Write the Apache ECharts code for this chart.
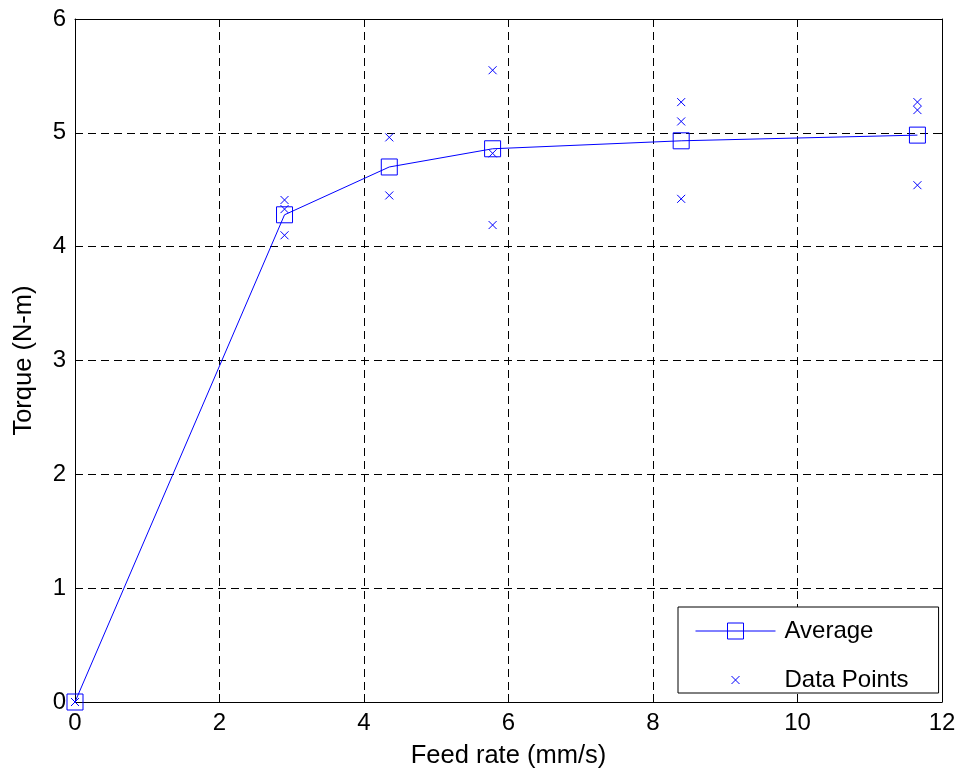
<!DOCTYPE html>
<html>
<head>
<meta charset="utf-8">
<script src="https://cdn.jsdelivr.net/npm/echarts@6/dist/echarts.min.js"></script>
<style>html,body{margin:0;padding:0;background:#fff}#c{width:961px;height:774px}</style>
</head>
<body>
<div id="c"></div>
<script>
// Averages
var feedRate = [0, 2.9, 4.35, 5.78, 8.39, 11.66];
var averageTorque = [0, 4.28, 4.70, 4.86, 4.93, 4.98];
// Individual measurements
var pointFeed = [0, 2.9, 2.9, 2.9, 4.35, 4.35, 5.78, 5.78, 5.78, 8.39, 8.39, 8.39, 11.66, 11.66, 11.66];
var pointTorque = [0, 4.41, 4.33, 4.10, 4.96, 4.45, 5.55, 4.82, 4.19, 5.27, 5.10, 4.42, 5.27, 5.20, 4.54];
var xTicks = [0, 2, 4, 6, 8, 10, 12];
var yTicks = [0, 1, 2, 3, 4, 5, 6];

var FONT = '"Liberation Sans", Arial, sans-serif';
var BLUE = '#0000ff';
var crossPath = 'path://M0,0M20,20M6,6L14,14M14,6L6,14';

function zip(a, b) { return a.map(function (v, i) { return [v, b[i]]; }); }

var chart = echarts.init(document.getElementById('c'), null, {renderer: 'canvas'});
var baseAxis = function (pos, show) {
  return {
    type: 'value',
    position: pos,
    axisLine: {show: true, onZero: false, lineStyle: {color: '#000', width: 1}},
    axisTick: {show: true, inside: true, length: 8, lineStyle: {color: '#000'}},
    axisLabel: {show: show, color: '#000', fontSize: 24, fontFamily: FONT, margin: 9},
    splitLine: {show: show, lineStyle: {color: '#000', type: [8, 5], width: 1}}
  };
};
var xMain = Object.assign(baseAxis('bottom', true), {
  min: xTicks[0], max: xTicks[xTicks.length - 1], interval: xTicks[1] - xTicks[0],
  name: 'Feed rate (mm/s)', nameLocation: 'middle', nameGap: 41,
  nameTextStyle: {color: '#000', fontSize: 25.5, fontFamily: FONT}
});
var xTop = Object.assign(baseAxis('top', false), {
  min: xTicks[0], max: xTicks[xTicks.length - 1], interval: xTicks[1] - xTicks[0]
});
var yMain = Object.assign(baseAxis('left', true), {
  min: yTicks[0], max: yTicks[yTicks.length - 1], interval: yTicks[1] - yTicks[0],
  name: 'Torque (N-m)', nameLocation: 'middle', nameGap: 38,
  nameTextStyle: {color: '#000', fontSize: 25.5, fontFamily: FONT}
});
var yRight = Object.assign(baseAxis('right', false), {
  min: yTicks[0], max: yTicks[yTicks.length - 1], interval: yTicks[1] - yTicks[0]
});

chart.setOption({
  animation: false,
  backgroundColor: '#fff',
  textStyle: {fontFamily: FONT},
  grid: {left: 75, right: 19, top: 19, bottom: 71, containLabel: false},
  xAxis: [xMain, xTop],
  yAxis: [yMain, yRight],
  legend: {
    orient: 'vertical',
    left: 678, top: 607,
    padding: [12, 30, 1, 17],
    itemGap: 25,
    itemWidth: 80, itemHeight: 20,
    backgroundColor: '#fff',
    borderColor: '#000', borderWidth: 1,
    itemStyle: {borderWidth: 1},
    lineStyle: {width: 1},
    textStyle: {color: '#000', fontSize: 24, fontFamily: FONT, padding: [0, 0, 0, 4]},
    data: ['Average', 'Data Points']
  },
  series: [
    {
      name: 'Average', type: 'line',
      data: zip(feedRate, averageTorque),
      symbol: 'rect', symbolSize: 16,
      lineStyle: {color: BLUE, width: 1},
      itemStyle: {color: 'transparent', borderColor: BLUE, borderWidth: 1},
      z: 3
    },
    {
      name: 'Data Points', type: 'scatter',
      data: zip(pointFeed, pointTorque),
      symbol: crossPath, symbolSize: 20,
      itemStyle: {color: 'transparent', borderColor: BLUE, borderWidth: 1, opacity: 1},
      z: 4
    }
  ]
});
</script>
</body>
</html>
